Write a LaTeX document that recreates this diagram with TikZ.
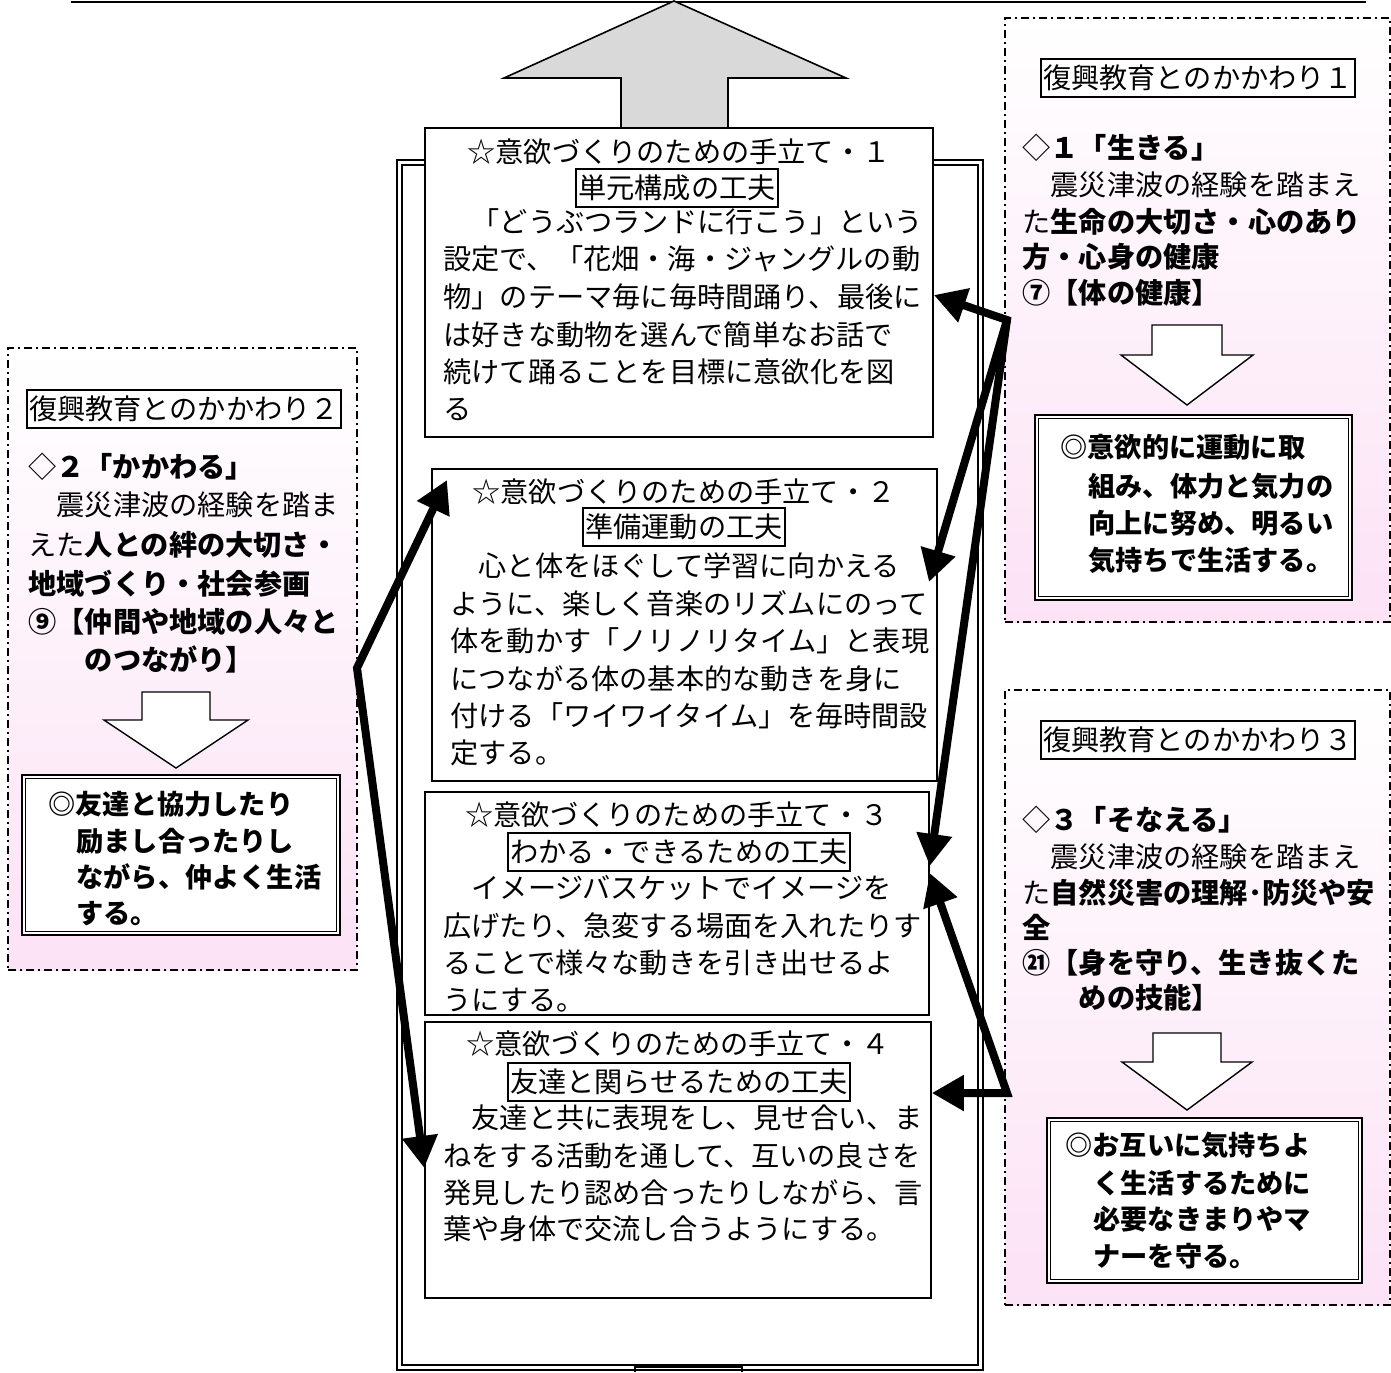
\documentclass[tikz,border=0pt]{standalone}
\usepackage{fontspec}
\newfontfamily\jp{Noto Sans CJK JP}
\usetikzlibrary{arrows.meta,fit}
\definecolor{pnk}{RGB}{252,226,245}
\definecolor{arrgray}{RGB}{217,217,217}
\tikzset{
  x=0.5pt, y=-0.5pt,
  >={Triangle[length=16pt,width=17pt]},
  txt/.style={font=\jp\fontsize{14.1pt}{17pt}\selectfont, inner sep=0pt, text height=12.4pt, text depth=1.7pt},
  ln/.style={txt, anchor=west},
  dln/.style={ln, font=\jp\fontsize{13.6pt}{17pt}\selectfont\bfseries, text height=12pt, text depth=1.6pt},
  sub/.style={txt, draw, line width=0.9pt, inner xsep=1pt, inner ysep=2.4pt, fill=white},
  tbox/.style={draw, line width=0.8pt, fill=white, inner sep=0pt},
  dbox/.style={draw, line width=1.4pt, fill=white, inner sep=0pt},
  panel/.style={draw, line width=0.7pt, dash pattern=on 4pt off 2pt on 1pt off 2pt, inner sep=0pt, top color=white, bottom color=pnk},
  hollow/.style={draw, fill=white, line width=0.7pt, line join=miter},
  bigarrow/.style={line width=4pt, line join=miter},
}
\begin{document}
\begin{tikzpicture}
\useasboundingbox (0,0) rectangle (1391,1372);
\fill[white] (0,0) rectangle (1391,1372);

% top rule and gray arrow
\coordinate (tl) at (71,2);
\coordinate (tr) at (1366,2);
\draw[line width=1pt] (tl) -- (tr);
\draw[fill=arrgray, line width=0.8pt, line join=miter] (621,130) -- (621,78) -- (504,78) -- (674,1) -- (846,78) -- (728,78) -- (728,130);

% main double frame
\node[draw, line width=1pt, inner sep=0pt, fit={(397,160) (983,1370)}] (fr) {};
\draw[line width=0.9pt] ([shift={(3pt,-3pt)}]fr.north west) rectangle ([shift={(-3pt,3pt)}]fr.south east);
\draw[line width=0.7pt] (635,1372) -- (635,1367) -- (742,1367) -- (742,1372);

% box 1
\node[tbox, fit={(425,128) (933,437)}] (b1) {};
\node[txt] (b1t) at (679,152) {☆意欲づくりのための手立て・１};
\node[sub] (b1s) at (677,188) {単元構成の工夫};
\node[ln] (b1a) at (443,222) {　「どうぶつランドに行こう」という};
\node[ln] (b1b) at (443,259) {設定で、「花畑・海・ジャングルの動};
\node[ln] (b1c) at (443,297) {物」のテーマ毎に毎時間踊り、最後に};
\node[ln] (b1d) at (443,335) {は好きな動物を選んで簡単なお話で};
\node[ln] (b1e) at (443,372) {続けて踊ることを目標に意欲化を図};
\node[ln] (b1f) at (443,409) {る};

% box 2
\node[tbox, fit={(432,469) (937,781)}] (b2) {};
\node[txt] (b2t) at (684,492) {☆意欲づくりのための手立て・２};
\node[sub] (b2s) at (684,527) {準備運動の工夫};
\node[ln] (b2a) at (450,566) {　心と体をほぐして学習に向かえる};
\node[ln] (b2b) at (450,604) {ように、楽しく音楽のリズムにのって};
\node[ln] (b2c) at (450,641) {体を動かす「ノリノリタイム」と表現};
\node[ln] (b2d) at (450,679) {につながる体の基本的な動きを身に};
\node[ln] (b2e) at (450,716) {付ける「ワイワイタイム」を毎時間設};
\node[ln] (b2f) at (450,753) {定する。};

% box 3
\node[tbox, fit={(425,792) (929,1015)}] (b3) {};
\node[txt] (b3t) at (677,815) {☆意欲づくりのための手立て・３};
\node[sub] (b3s) at (679,852) {わかる・できるための工夫};
\node[ln] (b3a) at (443,888) {　イメージバスケットでイメージを};
\node[ln] (b3b) at (443,926) {広げたり、急変する場面を入れたりす};
\node[ln] (b3c) at (443,963) {ることで様々な動きを引き出せるよ};
\node[ln] (b3d) at (443,1000) {うにする。};

% box 4
\node[tbox, fit={(425,1022) (931,1298)}] (b4) {};
\node[txt] (b4t) at (678,1044) {☆意欲づくりのための手立て・４};
\node[sub] (b4s) at (679,1082) {友達と関らせるための工夫};
\node[ln] (b4a) at (443,1118) {　友達と共に表現をし、見せ合い、ま};
\node[ln] (b4b) at (443,1156) {ねをする活動を通して、互いの良さを};
\node[ln] (b4c) at (443,1193) {発見したり認め合ったりしながら、言};
\node[ln] (b4d) at (443,1229) {葉や身体で交流し合うようにする。};

% left panel
\node[panel, fit={(8,348) (357,970)}] (p2) {};
\node[sub] (k2) at (184,409) {復興教育とのかかわり２};
\node[ln] (p2a) at (28,467) {◇{\bfseries ２「かかわる」}};
\node[ln] (p2b) at (28,505) {　震災津波の経験を踏ま};
\node[ln] (p2c) at (28,545) {えた{\bfseries 人との絆の大切さ・}};
\node[ln] (p2d) at (28,584) {\bfseries 地域づくり・社会参画};
\node[ln] (p2e) at (28,622) {\bfseries ⑨【仲間や地域の人々と};
\node[ln] (p2f) at (28,660) {\bfseries 　　のつながり】};
\draw[hollow] (142,692) -- (210,692) -- (210,720) -- (248,720) -- (176,768) -- (104,720) -- (142,720) -- cycle;
\node[dbox, fit={(22,775) (340,935)}] (d2) {};
\draw[line width=0.6pt] ([shift={(2.6pt,-2.6pt)}]d2.north west) rectangle ([shift={(-2.6pt,2.6pt)}]d2.south east);
\node[dln] (d2a) at (48,804) {◎友達と協力したり};
\node[dln] (d2b) at (76,841) {励まし合ったりし};
\node[dln] (d2c) at (76,877) {ながら、仲よく生活};
\node[dln] (d2d) at (76,913) {する。};

% right panel 1
\node[panel, fit={(1005,18) (1390,622)}] (p1) {};
\node[sub] (k1) at (1198,78) {復興教育とのかかわり１};
\node[ln] (p1a) at (1022,148) {◇{\bfseries １「生きる」}};
\node[ln] (p1b) at (1022,185) {　震災津波の経験を踏まえ};
\node[ln] (p1c) at (1022,222) {た{\bfseries 生命の大切さ・心のあり}};
\node[ln] (p1d) at (1022,257) {\bfseries 方・心身の健康};
\node[ln] (p1e) at (1022,293) {\bfseries ⑦【体の健康】};
\draw[hollow] (1152,325) -- (1222,325) -- (1222,355) -- (1253,355) -- (1187,405) -- (1121,355) -- (1152,355) -- cycle;
\node[dbox, fit={(1035,415) (1352,600)}] (d1) {};
\draw[line width=0.6pt] ([shift={(2.6pt,-2.6pt)}]d1.north west) rectangle ([shift={(-2.6pt,2.6pt)}]d1.south east);
\node[dln] (d1a) at (1060,447) {◎意欲的に運動に取};
\node[dln] (d1b) at (1088,486) {組み、体力と気力の};
\node[dln] (d1c) at (1088,523) {向上に努め、明るい};
\node[dln] (d1d) at (1088,560) {気持ちで生活する。};

% right panel 3
\node[panel, fit={(1005,690) (1390,1305)}] (p3) {};
\node[sub] (k3) at (1198,740) {復興教育とのかかわり３};
\node[ln] (p3a) at (1022,820) {◇{\bfseries ３「そなえる」}};
\node[ln] (p3b) at (1022,857) {　震災津波の経験を踏まえ};
\node[ln] (p3c) at (1022,893) {た{\bfseries 自然災害の理解･防災や安}};
\node[ln] (p3d) at (1022,928) {\bfseries 全};
\node[ln] (p3e) at (1022,963) {\bfseries ㉑【身を守り、生き抜くた};
\node[ln] (p3f) at (1022,998) {\bfseries 　　めの技能】};
\draw[hollow] (1153,1033) -- (1221,1033) -- (1221,1062) -- (1252,1062) -- (1187,1110) -- (1122,1062) -- (1153,1062) -- cycle;
\node[dbox, fit={(1047,1118) (1362,1283)}] (d3) {};
\draw[line width=0.6pt] ([shift={(2.6pt,-2.6pt)}]d3.north west) rectangle ([shift={(-2.6pt,2.6pt)}]d3.south east);
\node[dln] (d3a) at (1065,1145) {◎お互いに気持ちよ};
\node[dln] (d3b) at (1093,1183) {く生活するために};
\node[dln] (d3c) at (1093,1219) {必要なきまりやマ};
\node[dln] (d3d) at (1093,1256) {ナーを守る。};

% thick connectors
\coordinate (jR1) at (1007,320);
\coordinate (jR2) at (1007,1093);
\coordinate (jL) at (357,668);
\draw[bigarrow, <->] (b1.east |- 0,295) -- (jR1) -- (b3.east |- 0,866);
\draw[bigarrow, ->] (jR1) -- (929,582);
\draw[bigarrow, <->] (b4.east |- 0,1093) -- (jR2) -- (b3.east |- 0,873);
\draw[bigarrow, <->] (447,480) -- (jL) -- (b4.west |- 0,1168);
\end{tikzpicture}
\end{document}
